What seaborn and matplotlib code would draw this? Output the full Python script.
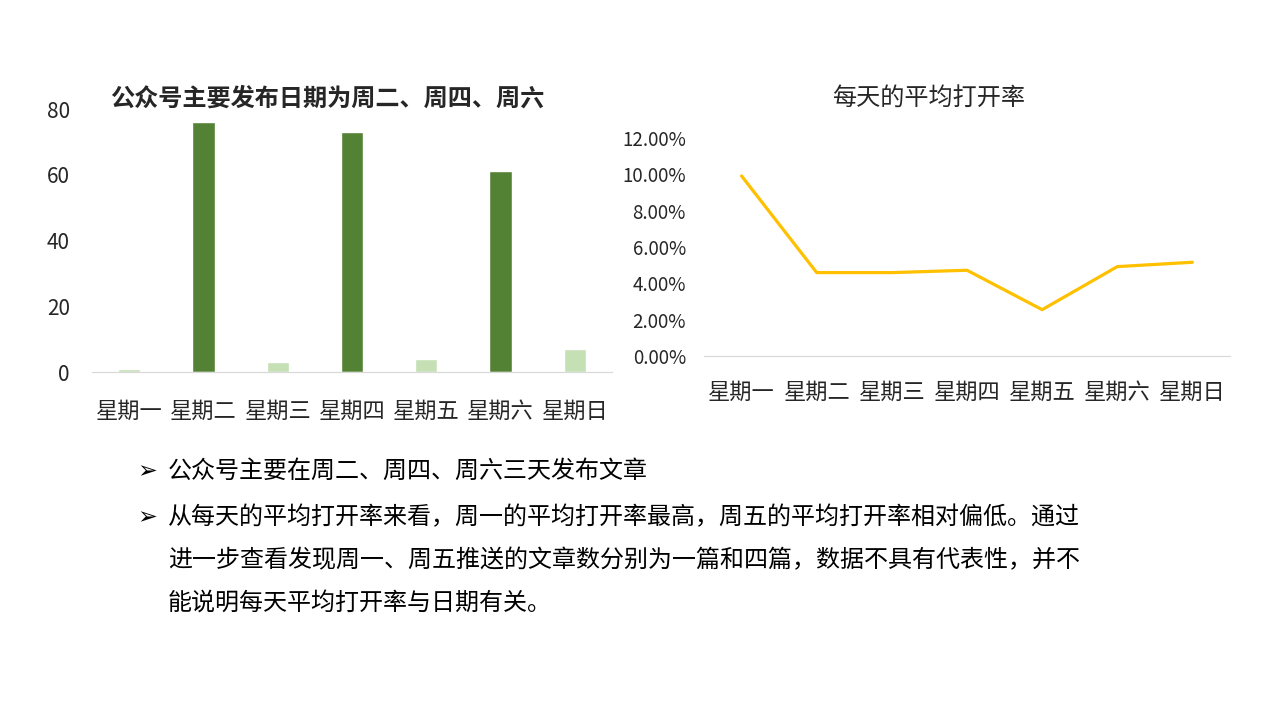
import matplotlib
matplotlib.use("Agg")
import matplotlib.pyplot as plt
import seaborn as sns
import pandas as pd

days = ["星期一", "星期二", "星期三", "星期四", "星期五", "星期六", "星期日"]
post_counts = [1, 76, 3, 73, 4, 61, 7]
open_rate = [0.0991, 0.0459, 0.0459, 0.0472, 0.0255, 0.0492, 0.0516]
count_ticks = [0, 20, 40, 60, 80]
rate_ticks = [0.0, 0.02, 0.04, 0.06, 0.08, 0.10, 0.12]

left_title = "公众号主要发布日期为周二、周四、周六"
right_title = "每天的平均打开率"
notes = [
    "公众号主要在周二、周四、周六三天发布文章",
    "从每天的平均打开率来看，周一的平均打开率最高，周五的平均打开率相对偏低。通过",
    "进一步查看发现周一、周五推送的文章数分别为一篇和四篇，数据不具有代表性，并不",
    "能说明每天平均打开率与日期有关。",
]

sns.set_style("white")
plt.rcParams["font.family"] = ["Noto Sans CJK SC", "DejaVu Sans"]

dark_green = "#548235"
light_green = "#C5E0B4"
bar_colors = [dark_green if c > 20 else light_green for c in post_counts]

df = pd.DataFrame({"day": days, "count": post_counts, "rate": open_rate})

fig = plt.figure(figsize=(12.8, 7.2), dpi=100)

# left: bar chart of post counts
ax1 = fig.add_axes([92 / 1280, 1 - 372 / 720, 520 / 1280, 263 / 720])
sns.barplot(data=df, x="day", y="count", hue="day", palette=bar_colors,
            width=0.3, legend=False, ax=ax1, saturation=1)
ax1.set_xlim(-0.5, 6.5)
ax1.set_ylim(0, 80)
ax1.set_yticks(count_ticks)
ax1.set_xlabel("")
ax1.set_ylabel("")
ax1.tick_params(axis="y", length=0, pad=16, labelsize=15, labelcolor="#262626")
ax1.tick_params(axis="x", length=0, pad=20, labelsize=16, labelcolor="#262626")

# right: line chart of open rate
ax2 = fig.add_axes([704 / 1280, 1 - 356 / 720, 526 / 1280, 218 / 720])
sns.lineplot(data=df, x="day", y="rate", color="#FFC000", linewidth=2.3,
             sort=False, ax=ax2)
ax2.set_xlim(-0.5, 6.5)
ax2.set_ylim(0, 0.12)
ax2.set_yticks(rate_ticks)
ax2.set_yticklabels([f"{t * 100:.2f}%" for t in rate_ticks])
ax2.set_xlabel("")
ax2.set_ylabel("")
ax2.tick_params(axis="y", length=0, pad=13, labelsize=13.5, labelcolor="#262626")
ax2.tick_params(axis="x", length=0, pad=18, labelsize=16, labelcolor="#262626")

for ax in (ax1, ax2):
    ax.grid(False)
    for s in ("top", "left", "right"):
        ax.spines[s].set_visible(False)
    ax.spines["bottom"].set_color("#D9D9D9")
    ax.spines["bottom"].set_linewidth(0.9)

fig.text(327 / 1280, 1 - 99 / 720, left_title, ha="center", va="center",
         fontsize=17.4, fontweight="bold", color="#262626")
fig.text(929 / 1280, 1 - 98 / 720, right_title, ha="center", va="center",
         fontsize=17.4, color="#262626")

# notes below the charts
note_y = [471, 517, 560, 603]
for i, (txt, y) in enumerate(zip(notes, note_y)):
    if i < 2:
        fig.text(147 / 1280, 1 - y / 720, "➢", ha="center", va="center",
                 fontsize=17, color="black", family=["DejaVu Sans"])
    fig.text(168 / 1280, 1 - y / 720, txt, ha="left", va="center",
             fontsize=17.3, color="black")

fig.savefig("out.png", dpi=100)
